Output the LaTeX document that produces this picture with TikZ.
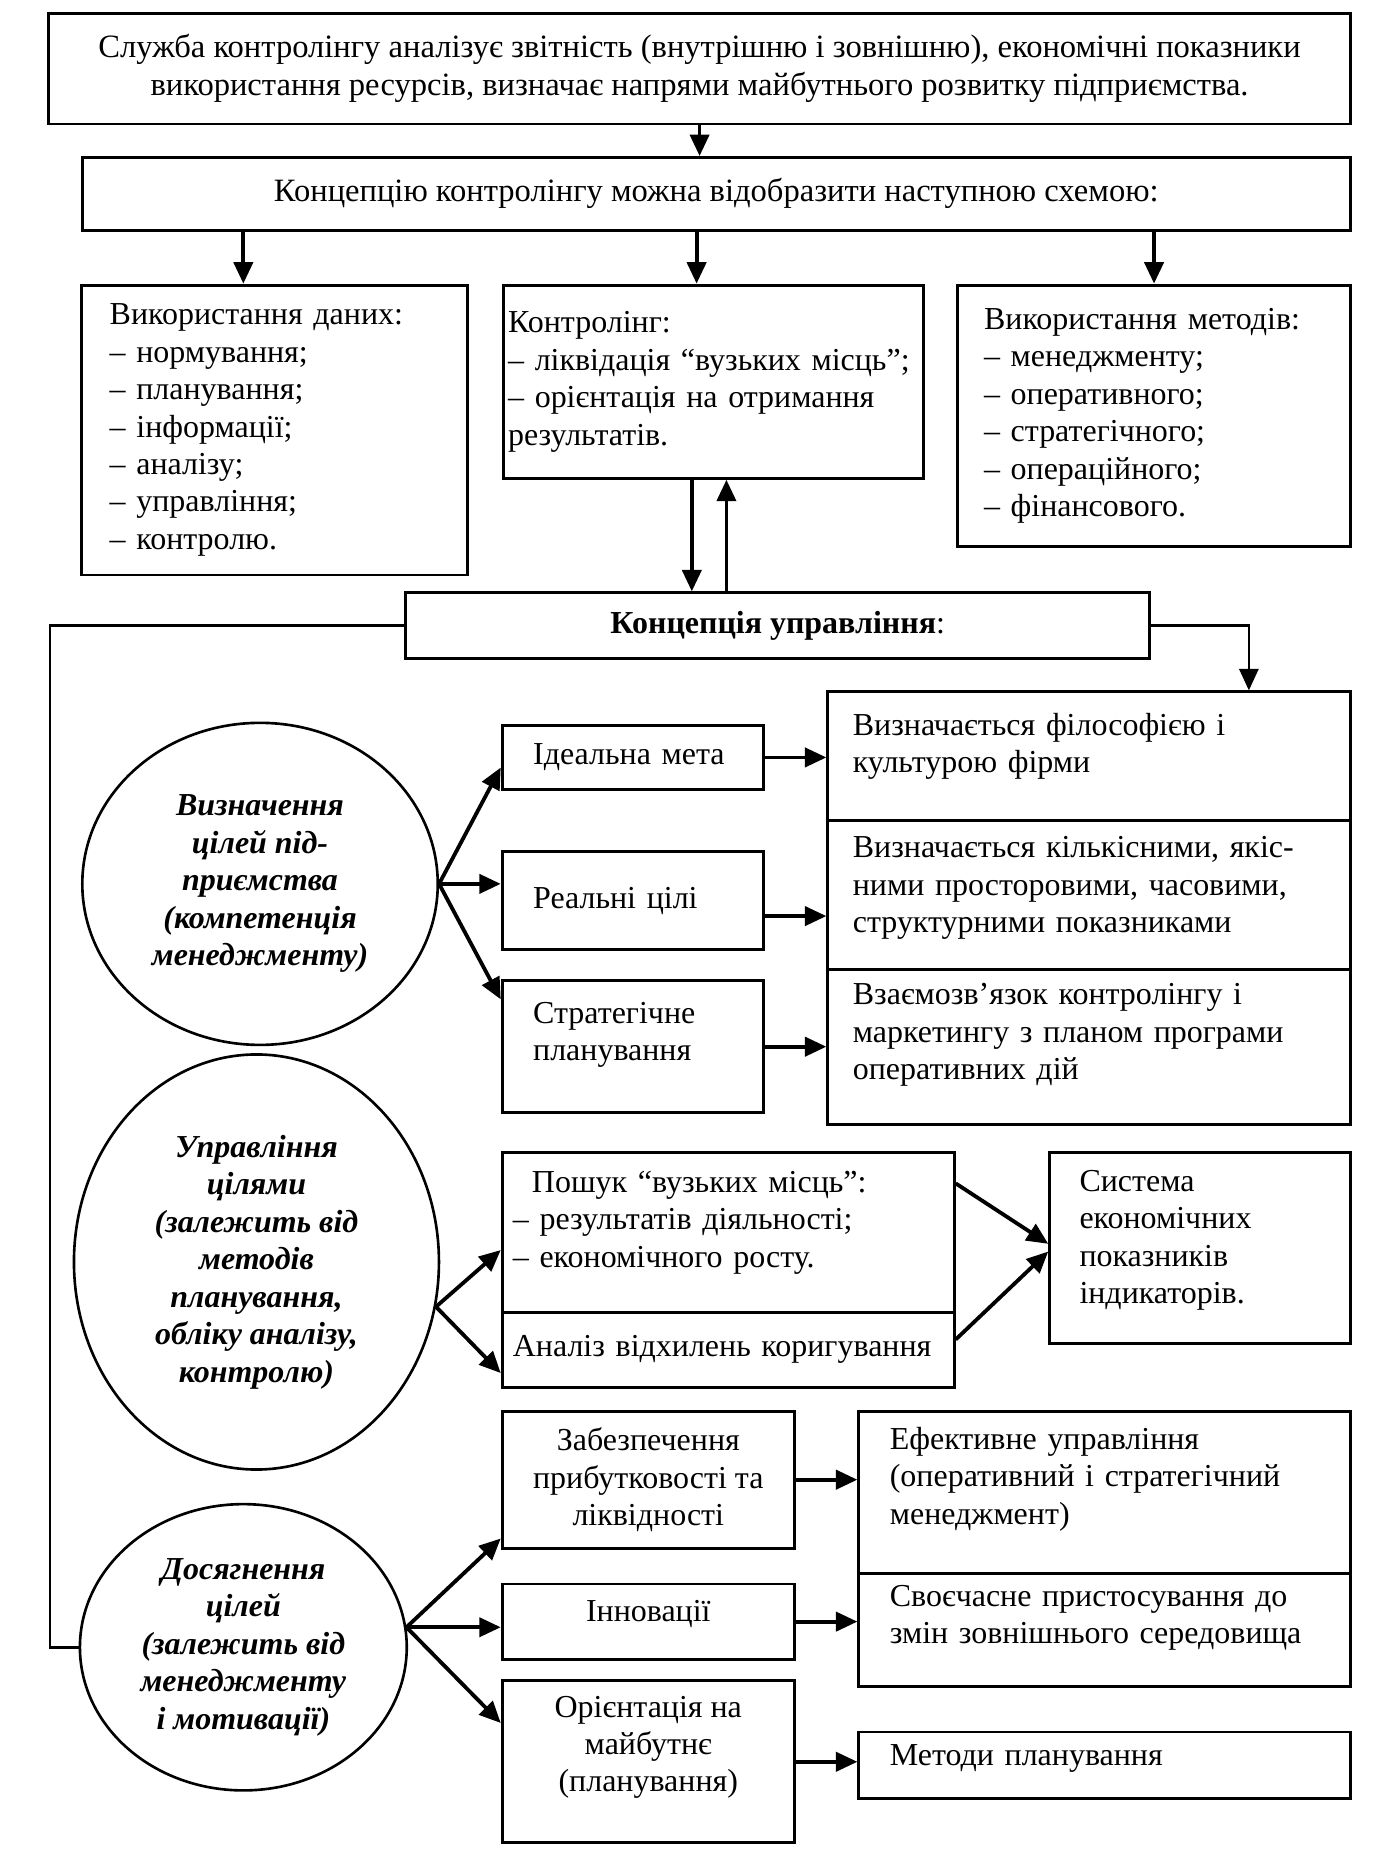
\documentclass[tikz,border=0pt]{standalone}
\usepackage{fontspec}
\setmainfont{Liberation Serif}
\usetikzlibrary{arrows.meta,shapes.geometric,calc}
\newcommand{\diagfont}{\fontsize{13.4}{15.7}\selectfont}
\newcommand{\bigdiagfont}{\fontsize{13.65}{15.9}\selectfont}
\newcommand{\mkbox}[6][]{%
  \pgfmathsetmacro\mybw{(#5-#3)*0.5}%
  \pgfmathsetmacro\mybh{(#6-#4)*0.5}%
  \node[box, minimum width=\mybw pt, minimum height=\mybh pt, #1] (#2) at ({(#3+#5)/2},{(#4+#6)/2})}
\tikzset{
  box/.style={draw, line width=1.2pt, inner sep=0pt, font=\diagfont},
  ell/.style={draw, ellipse, line width=1.1pt, inner sep=0pt, align=center, font=\diagfont\bfseries\itshape},
  arr/.style={line width=1.6pt, -{Triangle[length=9pt,width=8pt]}},
  ln/.style={line width=1.1pt},
  raise/.style={text depth=#1},
}
\begin{document}
\begin{tikzpicture}[x=0.5pt,y=-0.5pt]
\fill[white] (0,0) rectangle (1160,1556);
\useasboundingbox (0,0) rectangle (1160,1556);

% top part
\mkbox[align=center, font=\bigdiagfont]{top}{41}{11}{1132}{104}{Служба контролінгу аналізує звітність (внутрішню і зовнішню), економічні показники\\ використання ресурсів, визначає напрями майбутнього розвитку підприємства.};
\mkbox[align=center, font=\bigdiagfont]{b2}{69}{132}{1132}{193}{Концепцію контролінгу можна відобразити наступною схемою:};
\mkbox[align=left, text width=138pt]{L}{68}{239}{392}{482}{Використання даних:\\ – нормування;\\ – планування;\\ – інформації;\\ – аналізу;\\ – управління;\\ – контролю.};
\mkbox[align=left, text width=172pt]{M}{422}{239}{774}{401}{Контролінг:\\ – ліквідація “вузьких місць”;\\ – орієнтація на отримання\\ результатів.};
\mkbox[align=left, text width=142.5pt]{R}{803}{239}{1132}{458}{Використання методів:\\ – менеджменту;\\ – оперативного;\\ – стратегічного;\\ – операційного;\\ – фінансового.};
\mkbox[align=center]{concept}{340}{497}{964}{552}{\textbf{Концепція управління}:};

% right column (goals)
\mkbox[align=left, text width=198pt, raise=26.7pt]{big1}{694}{580}{1132}{688}{Визначається філософією і\\ культурою фірми};
\mkbox[align=left, text width=198pt, raise=40.4pt]{big2}{694}{688}{1132}{813}{Визначається кількісними, якіс-\\ними просторовими, часовими,\\ структурними показниками};
\mkbox[align=left, text width=198pt, raise=44.4pt]{big3}{694}{813}{1132}{943}{Взаємозв’язок контролінгу і\\ маркетингу з планом програми\\ оперативних дій};
\mkbox[align=left, text width=83.5pt]{ideal}{421}{608}{640}{662}{Ідеальна мета};
\mkbox[align=left, text width=83.5pt]{real}{421}{714}{640}{796}{Реальні цілі};
\mkbox[align=left, text width=83.5pt, raise=28.7pt]{strat}{421}{822}{640}{933}{Стратегічне\\ планування};

\mkbox[align=left, text width=180.5pt, raise=42.4pt]{posh}{421}{966}{800}{1100}{\hspace*{8pt}Пошук “вузьких місць”:\\ – результатів діяльності;\\ – економічного росту.};
\mkbox[align=left, text width=180.5pt]{anal}{421}{1100}{800}{1163}{Аналіз відхилень коригування};
\mkbox[align=left, text width=101pt, raise=56.1pt]{sys}{880}{966}{1132}{1126}{Система\\ економічних\\ показників\\ індикаторів.};

\mkbox[align=center]{zab}{421}{1183}{666}{1298}{Забезпечення\\ прибутковості та\\ ліквідності};
\mkbox[align=center, raise=9pt]{inn}{421}{1328}{666}{1391}{Інновації};
\mkbox[align=center, raise=15pt]{orient}{421}{1409}{666}{1545}{Орієнтація на\\ майбутнє\\ (планування)};
\mkbox[align=left, text width=180pt, raise=45.4pt]{ef}{720}{1183}{1132}{1319}{Ефективне управління\\ (оперативний і стратегічний\\ менеджмент)};
\mkbox[align=left, text width=180pt, raise=28.7pt]{svo}{720}{1319}{1132}{1414}{Своєчасне пристосування до\\ змін зовнішнього середовища};
\mkbox[align=left, text width=180pt, raise=9pt]{met}{720}{1452}{1132}{1508}{Методи планування};

% ellipses
\node[ell, minimum width=149pt, minimum height=135pt] (e1) at (218,741) {Визначення\\ цілей під-\\ приємства\\ (компетенція\\ менеджменту)};
\node[ell, minimum width=153pt, minimum height=174pt] (e2) at (215,1058) {Управління\\ цілями\\ (залежить від\\ методів\\ планування,\\ обліку аналізу,\\ контролю)};
\node[ell, minimum width=137pt, minimum height=120pt] (e3) at (204,1381) {Досягнення\\ цілей\\ (залежить від\\ менеджменту\\ і мотивації)};

% helper x positions
\path (204,0) coordinate (xa) (584,0) coordinate (xb) (580,0) coordinate (xd) (609,0) coordinate (xu)
      (42,0) coordinate (lx) (1047,0) coordinate (rx);

% arrows top
\draw[arr] (top.south) -- (top.south |- b2.north);
\draw[arr] (xa |- b2.south) -- (xa |- L.north);
\draw[arr] (xb |- b2.south) -- (xb |- M.north);
\draw[arr] (R.north |- b2.south) -- (R.north);
\draw[arr] (xd |- M.south) -- (xd |- concept.north);
\draw[arr] (xu |- concept.north) -- (xu |- M.south);

% feedback lines
\draw[ln] (concept.west) -| (lx |- e3.west) -- (e3.west);
\draw[ln, -{Triangle[length=9pt,width=8pt]}] (concept.east) -| (rx |- big1.north);

% ellipse 1
\draw[arr] (e1.east) -- ($(ideal.south west)!0.35!(ideal.north west)$);
\draw[arr] (e1.east) -- (e1.east -| real.west);
\draw[arr] (e1.east) -- ($(strat.north west)!0.15!(strat.south west)$);
\draw[arr] (ideal.east) -- (ideal.east -| big1.west);
\path ($(real.east)+(0,13)$) coordinate (ra);
\draw[arr] (ra) -- (ra -| big2.west);
\draw[arr] (strat.east) -- (strat.east -| big3.west);

% ellipse 2
\draw[arr] (e2.-14.6) -- ($(posh.south west)!0.39!(posh.north west)$);
\draw[arr] (e2.-14.6) -- ($(anal.south west)!0.2!(anal.north west)$);
\draw[arr] ($(posh.south east)!0.8!(posh.north east)$) -- ($(sys.south west)!0.52!(sys.north west)$);
\draw[arr] ($(anal.south east)!0.63!(anal.north east)$) -- ($(sys.south west)!0.48!(sys.north west)$);

% ellipse 3
\draw[arr] (e3.7.6) -- ($(zab.south west)!0.08!(zab.north west)$);
\draw[arr] (e3.7.6) -- (e3.7.6 -| inn.west);
\draw[arr] (e3.7.6) -- ($(orient.south west)!0.735!(orient.north west)$);
\draw[arr] (zab.east) -- (zab.east -| ef.west);
\draw[arr] (inn.east) -- (inn.east -| svo.west);
\draw[arr] (orient.east) -- (orient.east -| met.west);
\end{tikzpicture}
\end{document}
